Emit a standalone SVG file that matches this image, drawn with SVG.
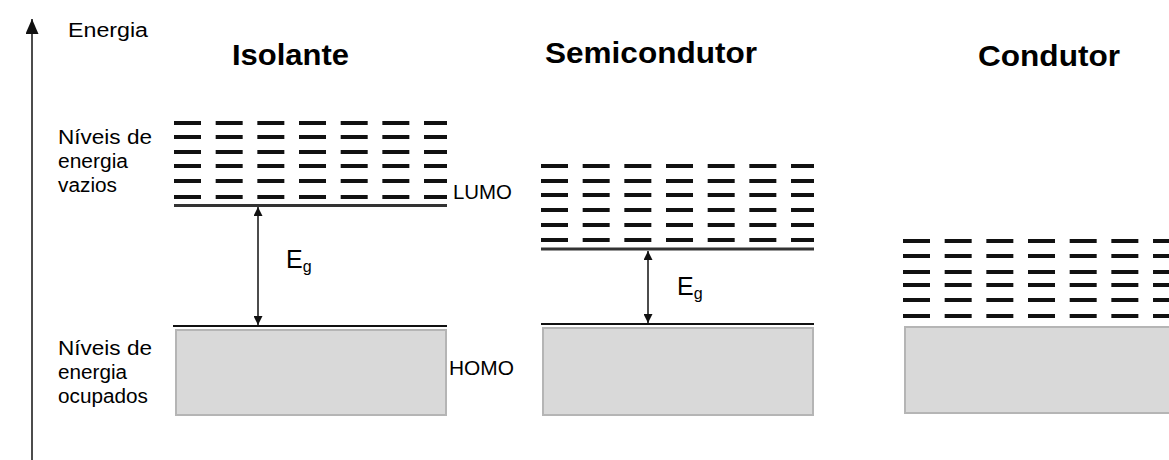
<svg xmlns="http://www.w3.org/2000/svg" width="1169" height="460" viewBox="0 0 1169 460">
<style>
.lbl{font-family:"Liberation Sans",Arial,sans-serif;font-size:20px;fill:#000}
.ttl{font-family:"Liberation Sans",Arial,sans-serif;font-size:30px;font-weight:bold;fill:#000}
.eg{font-family:"Liberation Sans",Arial,sans-serif;font-size:25px;fill:#000}
.sub{font-size:16px}
.lvl{fill:none;stroke:#111;stroke-width:4;stroke-dasharray:27 14.67}
.lumo{stroke:#333;stroke-width:3;fill:none}
.homo{stroke:#111;stroke-width:2;fill:none}
.band{fill:#d9d9d9;stroke:#b5b5b5;stroke-width:2}
.conn{stroke:#111;stroke-width:1.5;fill:none}
</style>
<defs>
<marker id="ah" markerUnits="userSpaceOnUse" markerWidth="9" markerHeight="9" refX="9" refY="4.5" orient="auto-start-reverse">
<path d="M0,0 L9,4.5 L0,9 z" fill="#111"/>
</marker>
<marker id="axh" markerUnits="userSpaceOnUse" markerWidth="15" markerHeight="13" refX="15" refY="6.5" orient="auto">
<path d="M0,0 L15,6.5 L0,13 z" fill="#111"/>
</marker>
</defs>
<rect width="1169" height="460" fill="#fff"/>

<g id="axis">
<line x1="32" y1="460" x2="32" y2="19" stroke="#111" stroke-width="1.5" marker-end="url(#axh)"/>
<text class="lbl" x="68" y="37" font-size="21" textLength="80" lengthAdjust="spacingAndGlyphs">Energia</text>
<text class="lbl" x="58" y="144" textLength="94" lengthAdjust="spacingAndGlyphs">Níveis de</text>
<text class="lbl" x="58" y="168" textLength="70" lengthAdjust="spacingAndGlyphs">energia</text>
<text class="lbl" x="58" y="192" textLength="59" lengthAdjust="spacingAndGlyphs">vazios</text>
<text class="lbl" x="58" y="355" textLength="94" lengthAdjust="spacingAndGlyphs">Níveis de</text>
<text class="lbl" x="58" y="379" textLength="69" lengthAdjust="spacingAndGlyphs">energia</text>
<text class="lbl" x="58" y="403" textLength="90" lengthAdjust="spacingAndGlyphs">ocupados</text>
</g>

<g id="isolante">
<text class="ttl" x="232" y="65" textLength="117" lengthAdjust="spacingAndGlyphs">Isolante</text>
<path class="lvl" d="M174 123H447M174 137H447M174 152H447M174 166H447M174 181H447M174 197H447"/>
<line class="lumo" x1="174" y1="205.5" x2="447" y2="205.5"/>
<line class="homo" x1="173" y1="326" x2="447" y2="326"/>
<rect class="band" x="176" y="330" width="270" height="85"/>
<text class="lbl" x="453" y="199" textLength="59" lengthAdjust="spacingAndGlyphs">LUMO</text>
<text class="lbl" x="449" y="375" textLength="65" lengthAdjust="spacingAndGlyphs">HOMO</text>
<text class="eg" x="286" y="268">E<tspan class="sub" dy="4">g</tspan></text>
</g>

<g id="semicondutor">
<text class="ttl" x="545" y="63" textLength="212" lengthAdjust="spacingAndGlyphs">Semicondutor</text>
<path class="lvl" d="M541 166H814M541 181H814M541 195H814M541 210H814M541 225H814M541 240H814"/>
<line class="lumo" x1="541" y1="249" x2="814" y2="249"/>
<line class="homo" x1="541" y1="324" x2="814" y2="324"/>
<rect class="band" x="543" y="328" width="270" height="87"/>
<text class="eg" x="677" y="295">E<tspan class="sub" dy="4">g</tspan></text>
</g>

<g id="condutor">
<text class="ttl" x="978" y="66" textLength="142" lengthAdjust="spacingAndGlyphs">Condutor</text>
<path class="lvl" d="M903 241H1169M903 256H1169M903 272H1169M903 285H1169M903 300H1169M903 316H1169"/>
<rect class="band" x="905" y="327" width="280" height="86"/>
</g>

<g id="connectors">
<line class="conn" x1="258" y1="207" x2="258" y2="325" marker-start="url(#ah)" marker-end="url(#ah)"/>
<line class="conn" x1="648" y1="251" x2="648" y2="323" marker-start="url(#ah)" marker-end="url(#ah)"/>
</g>
</svg>
